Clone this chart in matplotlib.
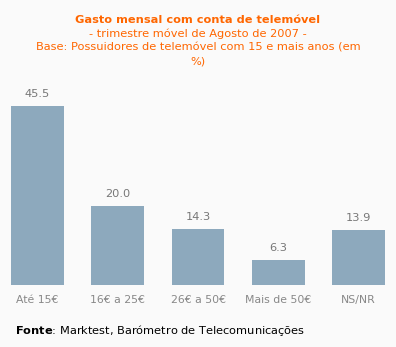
import matplotlib.pyplot as plt

categories = ["Até 15€", "16€ a 25€", "26€ a 50€", "Mais de 50€", "NS/NR"]
values = [45.5, 20.0, 14.3, 6.3, 13.9]

bg = "#fafafa"
orange = "#ff6600"

fig = plt.figure(figsize=(3.96, 3.47), dpi=100, facecolor=bg)
ax = fig.add_axes([0, 62 / 347, 1, 0.566])
ax.set_facecolor(bg)

x = range(len(categories))
ax.bar(x, values, width=0.66, color="#8da9bd")
for xi, v in zip(x, values):
    ax.annotate(f"{v:.1f}", (xi, v), xytext=(0, 5), textcoords="offset points",
                ha="center", va="bottom", fontsize=8.2, color="#777777")

ax.set_xlim(-0.467, 4.467)
ax.set_ylim(0, 50)
ax.set_xticks(list(x))
ax.set_xticklabels(categories, fontsize=7.8, color="#888888")
ax.tick_params(axis="x", length=0, pad=7)
ax.set_yticks([])
for s in ax.spines.values():
    s.set_visible(False)

fig.text(0.5, 1 - 20 / 347, "Gasto mensal com conta de telemóvel", ha="center", va="center",
         fontsize=8.2, fontweight="bold", color=orange)
fig.text(0.5, 1 - 34 / 347, "- trimestre móvel de Agosto de 2007 -", ha="center", va="center",
         fontsize=8.2, color=orange)
fig.text(0.5, 1 - 48 / 347, "Base: Possuidores de telemóvel com 15 e mais anos (em", ha="center",
         va="center", fontsize=8.2, color=orange)
fig.text(0.5, 1 - 62 / 347, "%)", ha="center", va="center", fontsize=8.2, color=orange)

fig.text(15 / 396, 1 - 331 / 347, r"$\bf{Fonte}$: Marktest, Barómetro de Telecomunicações",
         ha="left", va="center", fontsize=8.2, color="black")

fig.savefig("out.png", dpi=100, facecolor=bg)
